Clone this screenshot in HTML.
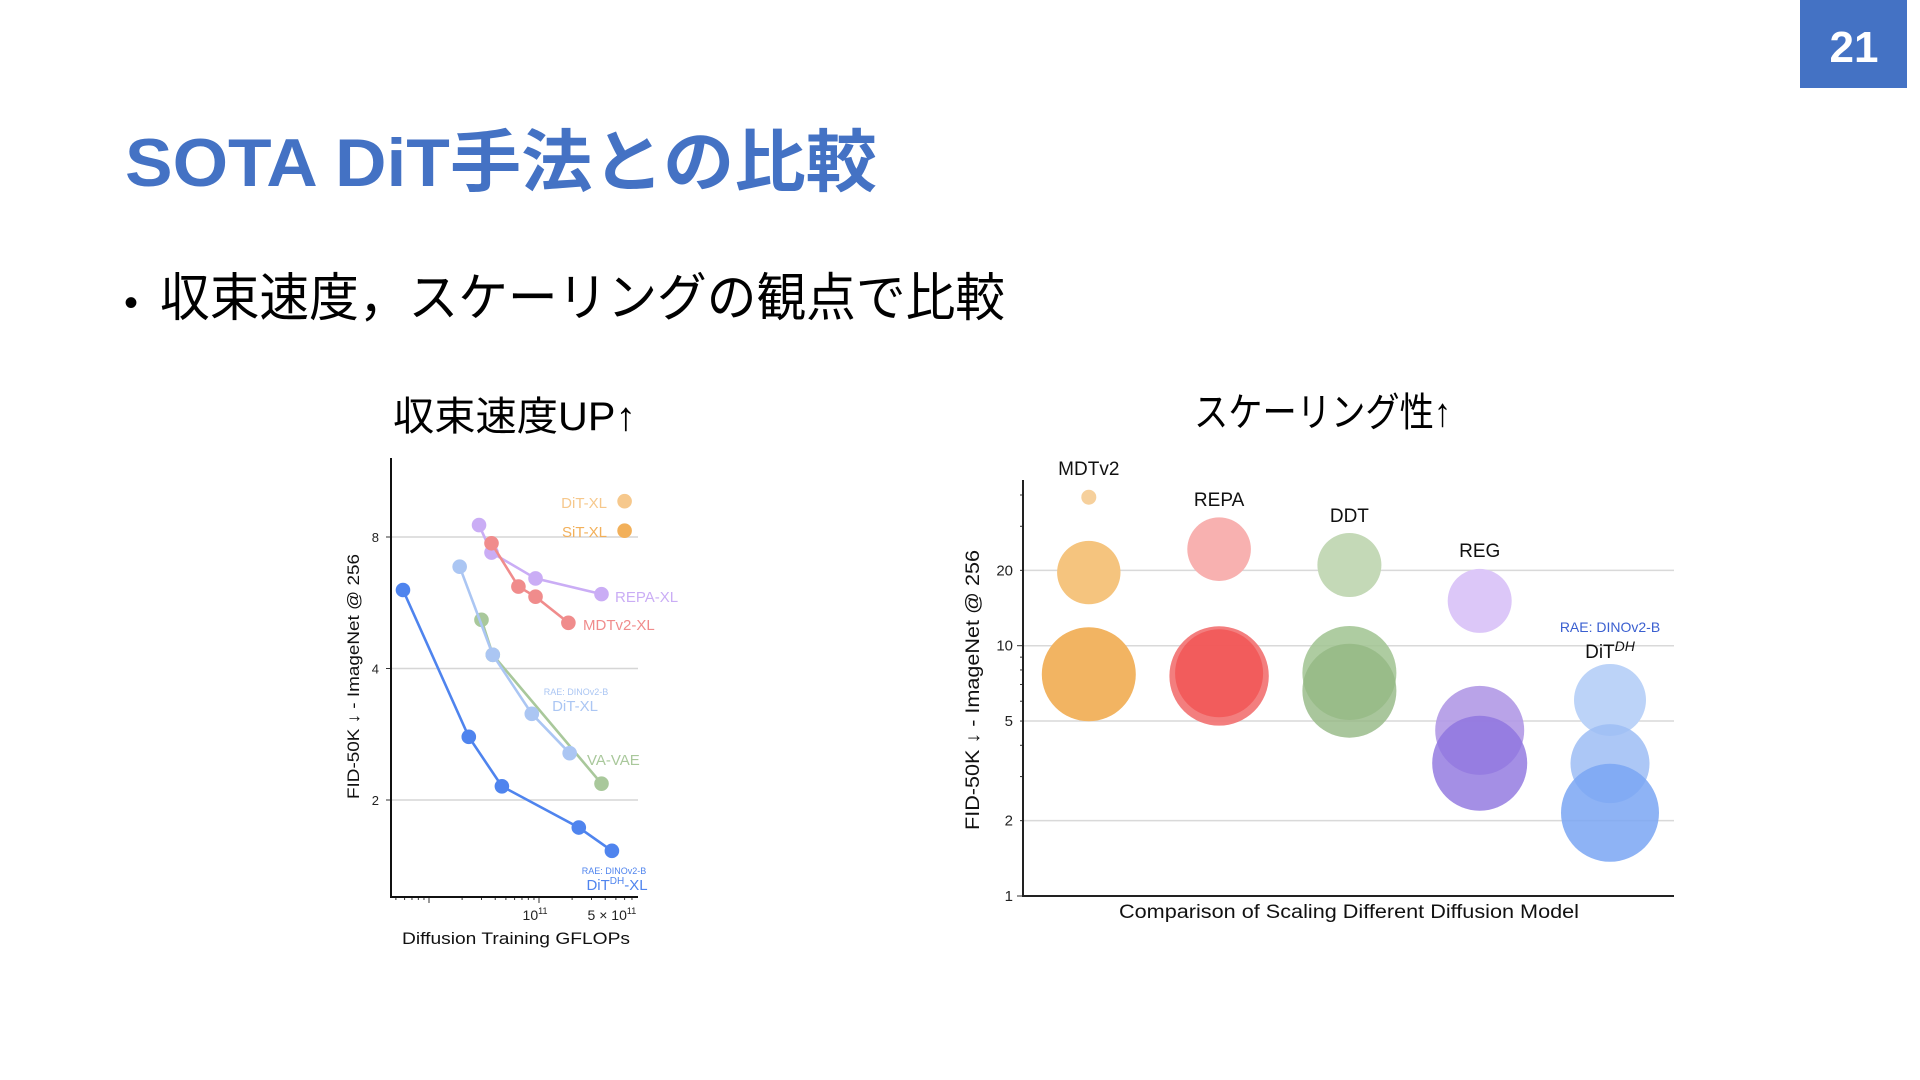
<!DOCTYPE html>
<html><head><meta charset="utf-8">
<style>
html,body{margin:0;padding:0;background:#fff;width:1920px;height:1080px;overflow:hidden}
svg{display:block}
.jp{font-family:"Liberation Sans","Noto Sans CJK JP",sans-serif}
.lb{font-family:"Liberation Sans","DejaVu Sans",sans-serif}
</style></head>
<body>
<svg id="page" width="1920" height="1080" viewBox="0 0 1920 1080" xmlns="http://www.w3.org/2000/svg">
  <rect x="1800" y="0" width="107" height="88" fill="#4472c4"/>
  <text class="lb" x="1854" y="62" font-size="44" font-weight="bold" fill="#fff" text-anchor="middle">21</text>
  <text class="jp" x="125" y="186" font-size="68" font-weight="bold" fill="#4472c4" textLength="752" lengthAdjust="spacingAndGlyphs">SOTA DiT手法との比較</text>
  <text class="jp" x="124" y="316" font-size="52" fill="#000"><tspan font-size="40">•</tspan><tspan x="160" textLength="845" lengthAdjust="spacingAndGlyphs">収束速度，スケーリングの観点で比較</tspan></text>
  <text class="jp" x="393" y="430" font-size="40" fill="#000" textLength="243" lengthAdjust="spacingAndGlyphs">収束速度UP↑</text>
  <text class="jp" x="1194" y="426" font-size="40" fill="#000" textLength="257" lengthAdjust="spacingAndGlyphs">スケーリング性↑</text>
  <g id="left"></g>
  <g id="right"></g>
</svg>
<script>
// ---------- Left chart data ----------
const ditdhX = [5.8e9, 2.3e10, 4.6e10, 2.3e11, 4.6e11];
const ditdhY = [6.05, 2.79, 2.15, 1.73, 1.53];
const raeDitX = [1.9e10, 3.8e10, 8.6e10, 1.9e11];
const raeDitY = [6.84, 4.3, 3.15, 2.56];
const vavaeX = [3.0e10, 3.8e10, 3.7e11];
const vavaeY = [5.17, 4.3, 2.18];
const repaX = [2.85e10, 3.7e10, 9.3e10, 3.7e11];
const repaY = [8.52, 7.37, 6.43, 5.92];
const mdtX = [3.7e10, 6.5e10, 9.3e10, 1.85e11];
const mdtY = [7.74, 6.16, 5.84, 5.09];
const ditX = [6.0e11];
const ditY = [9.66];
const sitX = [6.0e11];
const sitY = [8.27];
const leftYTicks = [2, 4, 8];
const leftXTickVals = [1e11, 5e11];
const leftXTickLabels = ["10", "5 × 10"];

// ---------- Right chart data ----------
const scaleCategories = ["MDTv2", "REPA", "DDT", "REG", "DiT^DH"];
const bubbleCat = [0, 0, 0, 1, 1, 1, 2, 2, 2, 3, 3, 3, 4, 4, 4];
const bubbleFid = [39.2, 19.6, 7.69, 24.3, 7.57, 7.76, 21.0, 7.78, 6.61, 15.1, 4.59, 3.39, 6.07, 3.38, 2.15];
const bubbleSize = [7.5, 31.7, 47, 31.8, 49.7, 44, 32, 47, 47, 32, 44.5, 47.5, 36, 39.5, 49];
const rightYTicks = [1, 2, 5, 10, 20];

const NS = "http://www.w3.org/2000/svg";
function mk(tag, attrs, parent, txt) {
  const e = document.createElementNS(NS, tag);
  for (const k in attrs) e.setAttribute(k, attrs[k]);
  if (txt !== undefined) e.textContent = txt;
  parent.appendChild(e);
  return e;
}

// ---------- Left chart ----------
const L = document.getElementById('left');
const lx0 = 391, lx1 = 638, ly0 = 458, ly1 = 897;
const lxS = v => 539 + (Math.log10(v) - 11) * 110;
const lyS = v => 537 - Math.log2(v / 8) * 131.5;

leftYTicks.forEach(t => {
  const g = mk('line', {x1: lx0, x2: lx1, y1: lyS(t), y2: lyS(t), stroke: '#d6d6d6', 'stroke-width': 1.5}, L);
  
  
  const tk = mk('line', {x1: lx0 - 5, x2: lx0, y1: lyS(t), y2: lyS(t), stroke: '#333', 'stroke-width': 1}, L);
  
  
  const lb = mk('text', {x: lx0 - 12, y: lyS(t) + 5, 'font-size': 13, 'text-anchor': 'end', fill: '#222', class: 'lb'}, L, String(t));
  
  
});
for (let e = 9; e <= 11; e++) {
  for (let m = 1; m <= 9; m++) {
    const v = m * Math.pow(10, e), x = lxS(v);
    if (x < lx0 || x > lx1) continue;
    const t = mk('line', {x1: x, x2: x, y1: ly1, y2: ly1 + (m === 1 ? 6 : 3), stroke: '#333', 'stroke-width': 1}, L);
    
    
  }
}
leftXTickVals.forEach((v, i) => {
  const t = mk('text', {x: lxS(v) - 4, y: 920, 'font-size': 14, 'text-anchor': 'middle', fill: '#222', class: 'lb'}, L);
  
  
  mk('tspan', {}, t, leftXTickLabels[i]);
  mk('tspan', {dy: -6, 'font-size': 9}, t, '11');
});
const ax = mk('path', {d: `M${lx0} ${ly0} V${ly1} H${lx1}`, fill: 'none', stroke: '#111', 'stroke-width': 2}, L);


const xl = mk('text', {x: 402, y: 944, 'font-size': 17, fill: '#111', class: 'lb', textLength: 228, lengthAdjust: 'spacingAndGlyphs'}, L, 'Diffusion Training GFLOPs');


const yl = mk('text', {x: -122, y: 0, 'font-size': 17, fill: '#111', class: 'lb', transform: 'translate(359,677) rotate(-90)', textLength: 245, lengthAdjust: 'spacingAndGlyphs'}, L, 'FID-50K ↓ - ImageNet @ 256');



function series(xs, ys, color, name, line) {
  if (line) {
    const p = mk('polyline', {points: xs.map((x, i) => lxS(x) + ',' + lyS(ys[i])).join(' '), fill: 'none', stroke: color, 'stroke-width': 2.6}, L);
    
    
  }
  xs.forEach((x, i) => {
    const c = mk('circle', {cx: lxS(x), cy: lyS(ys[i]), r: 7.3, fill: color}, L);
    
    
  });
}
series(vavaeX, vavaeY, '#a9c89b', 'vavae', true);
series(raeDitX, raeDitY, '#abc6f3', 'rae-dit-xl', true);
series(repaX, repaY, '#caadf5', 'repa-xl', true);
series(mdtX, mdtY, '#f08c8c', 'mdtv2-xl', true);
series(ditdhX, ditdhY, '#4f84ee', 'dit-dh-xl', true);
series(ditX, ditY, '#f6c88c', 'dit-xl', false);
series(sitX, sitY, '#f2b05a', 'sit-xl', false);

function lab(x, y, s, color, size, name, anchor) {
  const t = mk('text', {x: x, y: y, 'font-size': size, fill: color, class: 'lb', 'text-anchor': anchor || 'start'}, L, s);
  
  
  return t;
}
lab(607, 508, 'DiT-XL', '#f6c88c', 15, 'dit-xl-label', 'end');
lab(607, 537, 'SiT-XL', '#f2b05a', 15, 'sit-xl-label', 'end');
lab(615, 602, 'REPA-XL', '#caadf5', 15, 'repa-xl-label');
lab(583, 630, 'MDTv2-XL', '#f08c8c', 15, 'mdtv2-xl-label');
lab(576, 695, 'RAE: DINOv2-B', '#abc6f3', 9, 'rae-dit-xl-sublabel', 'middle');
lab(575, 711, 'DiT-XL', '#abc6f3', 15, 'rae-dit-xl-label', 'middle');
lab(587, 765, 'VA-VAE', '#a9c89b', 15, 'vavae-label');
lab(614, 874, 'RAE: DINOv2-B', '#4f84ee', 9, 'dit-dh-xl-sublabel', 'middle');
const dd = lab(617, 890, 'DiT', '#4f84ee', 15, 'dit-dh-xl-label', 'middle');
mk('tspan', {dy: -6, 'font-size': 10}, dd, 'DH');
mk('tspan', {dy: 6}, dd, '-XL');

// ---------- Right chart ----------
const R = document.getElementById('right');
const rx0 = 1023, rx1 = 1674, ry0 = 480, ry1 = 896;
const rxS = i => 1088.8 + i * 130.3;
const ryS = v => 896 - Math.log10(v) * 250.3;
const bubbleColors = ['#f6d09c', '#f5c47e', '#f2b462', '#f8b1b0', '#f27070', '#f15656', '#c4d9b7', '#a0c390', '#94b883', '#dcc7f8', '#b199e6', '#8d73de', '#bcd3f8', '#9ebdf5', '#7aa6f3'];
const bubbleOp = [1, 1, 1, 1, 0.9, 0.85, 1, 0.85, 0.8, 1, 0.9, 0.8, 1, 0.85, 0.85];

rightYTicks.forEach(t => {
  if (t > 1) {
    const g = mk('line', {x1: rx0, x2: rx1, y1: ryS(t), y2: ryS(t), stroke: '#d9d9d9', 'stroke-width': 1.5}, R);
    
    
  }
  const lb = mk('text', {x: rx0 - 10, y: ryS(t) + 5, 'font-size': 15, 'text-anchor': 'end', fill: '#222', class: 'lb'}, R, String(t));
  
  
});
for (let e = 0; e <= 1; e++) {
  for (let m = 1; m <= 9; m++) {
    const v = m * Math.pow(10, e), y = ryS(v);
    if (y < ry0) continue;
    const t = mk('line', {x1: rx0 - (m === 1 ? 6 : 3), x2: rx0, y1: y, y2: y, stroke: '#333', 'stroke-width': 1}, R);
    
    
  }
}
bubbleFid.forEach((v, i) => {
  const c = mk('circle', {cx: rxS(bubbleCat[i]), cy: ryS(v), r: bubbleSize[i], fill: bubbleColors[i], 'fill-opacity': bubbleOp[i]}, R);
  
  
});
const rax = mk('path', {d: `M${rx0} ${ry0} V${ry1} H${rx1}`, fill: 'none', stroke: '#222', 'stroke-width': 2}, R);


const catLabelY = [475, 506, 522, 557, 658];
scaleCategories.forEach((c, i) => {
  const t = mk('text', {x: rxS(i), y: catLabelY[i], 'font-size': 19, 'text-anchor': 'middle', fill: '#111', class: 'lb'}, R);
  
  
  if (c === 'DiT^DH') {
    mk('tspan', {}, t, 'DiT');
    mk('tspan', {dy: -7, 'font-size': 14, 'font-style': 'italic'}, t, 'DH');
  } else t.textContent = c;
});
const rs = mk('text', {x: rxS(4), y: 632, 'font-size': 14, 'text-anchor': 'middle', fill: '#3a5fd0', class: 'lb'}, R, 'RAE: DINOv2-B');


const rxl = mk('text', {x: 1119, y: 918, 'font-size': 19, fill: '#111', class: 'lb', textLength: 460, lengthAdjust: 'spacingAndGlyphs'}, R, 'Comparison of Scaling Different Diffusion Model');


const ryl = mk('text', {x: -140, y: 0, 'font-size': 19, fill: '#111', class: 'lb', transform: 'translate(979,690) rotate(-90)', textLength: 280, lengthAdjust: 'spacingAndGlyphs'}, R, 'FID-50K ↓ - ImageNet @ 256');


</script>
</body></html>
